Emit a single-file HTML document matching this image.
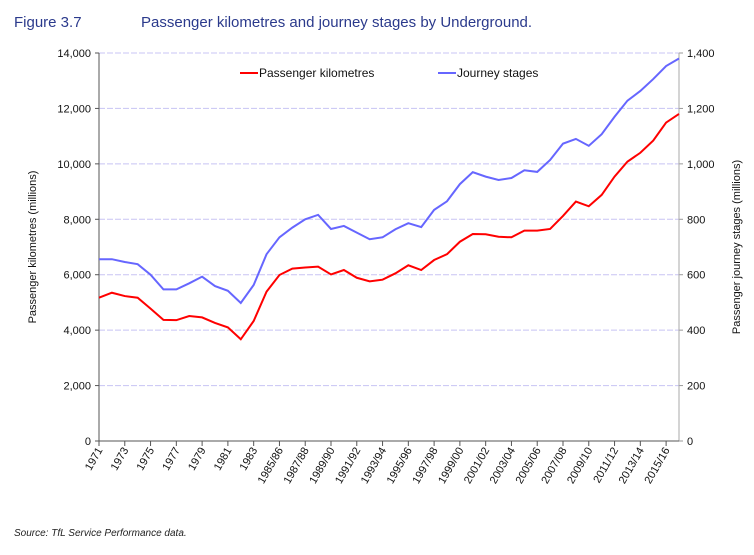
<!DOCTYPE html>
<html><head><meta charset="utf-8"><style>
body{margin:0;background:#fff;width:754px;height:550px;overflow:hidden;font-family:"Liberation Sans",sans-serif}
svg text{font-family:"Liberation Sans",sans-serif}
</style></head><body>
<svg id="chart" width="754" height="550">
<text x="14" y="27" font-size="15" fill="#2b3a8c">Figure 3.7</text>
<text x="141" y="27" font-size="15" fill="#2b3a8c">Passenger kilometres and journey stages by Underground.</text>
<g id="grid"></g><g id="axes"></g><g id="series"></g>
<g>
<line x1="240" y1="73" x2="258" y2="73" stroke="#ff0000" stroke-width="2"/>
<text x="259" y="77" font-size="12" fill="#111">Passenger kilometres</text>
<line x1="438" y1="73" x2="456" y2="73" stroke="#6666ff" stroke-width="2"/>
<text x="457" y="77" font-size="12" fill="#111">Journey stages</text>
</g>
<text transform="translate(36,247) rotate(-90)" text-anchor="middle" font-size="11" fill="#111">Passenger kilometres (millions)</text>
<text transform="translate(740,247) rotate(-90)" text-anchor="middle" font-size="11" fill="#111">Passenger journey stages (millions)</text>
<text x="14" y="536" font-size="10" font-style="italic" fill="#222">Source: TfL Service Performance data.</text>
</svg>
<script>
const categories=["1971","1972","1973","1974","1975","1976","1977","1978","1979","1980","1981","1982","1983","1984/85","1985/86","1986/87","1987/88","1988/89","1989/90","1990/91","1991/92","1992/93","1993/94","1994/95","1995/96","1996/97","1997/98","1998/99","1999/00","2000/01","2001/02","2002/03","2003/04","2004/05","2005/06","2006/07","2007/08","2008/09","2009/10","2010/11","2011/12","2012/13","2013/14","2014/15","2015/16","2016/17"];
const passengerKm=[5170,5350,5230,5170,4775,4370,4360,4510,4460,4260,4100,3670,4330,5390,5990,6220,6260,6290,6010,6170,5890,5760,5820,6050,6340,6170,6530,6740,7190,7470,7460,7370,7350,7590,7590,7650,8120,8640,8470,8880,9540,10080,10400,10840,11490,11800];
const journeyStages=[656,656,646,638,600,547,547,569,593,559,542,498,563,674,735,770,800,816,765,776,752,728,735,764,786,772,834,865,927,970,954,942,949,977,971,1014,1073,1090,1065,1107,1170,1228,1263,1306,1353,1380];
const leftTicks=[0,2000,4000,6000,8000,10000,12000,14000];
const rightTicks=[0,200,400,600,800,1000,1200,1400];
const xLabels=["1971","1973","1975","1977","1979","1981","1983","1985/86","1987/88","1989/90","1991/92","1993/94","1995/96","1997/98","1999/00","2001/02","2003/04","2005/06","2007/08","2009/10","2011/12","2013/14","2015/16"];
const NS="http://www.w3.org/2000/svg";
const X0=99,X1=679,Y0=441,Y1=53;
const x=i=>X0+i*(X1-X0)/(categories.length-1);
const yL=v=>Y0-v/14000*(Y0-Y1);
const yR=v=>Y0-v/1400*(Y0-Y1);
function mk(t,a,p){const e=document.createElementNS(NS,t);for(const k in a)e.setAttribute(k,a[k]);p.appendChild(e);return e;}
const grid=document.getElementById('grid'),axes=document.getElementById('axes'),ser=document.getElementById('series');
leftTicks.forEach(v=>{
 if(v>0){const g=mk('line',{x1:X0,x2:X1,y1:yL(v),y2:yL(v),stroke:'#c8c4f4','stroke-dasharray':'6,2'},grid);
 
 }
 mk('line',{x1:X0-4,x2:X0,y1:yL(v),y2:yL(v),stroke:'#555'},axes);
 const t=mk('text',{x:X0-8,y:yL(v)+4,'text-anchor':'end','font-size':11,fill:'#111'},axes);t.textContent=v.toLocaleString('en-US');
 
 
});
rightTicks.forEach(v=>{
 mk('line',{x1:X1,x2:X1+4,y1:yR(v),y2:yR(v),stroke:'#999'},axes);
 const t=mk('text',{x:X1+8,y:yR(v)+4,'font-size':11,fill:'#111'},axes);t.textContent=v.toLocaleString('en-US');
 
 
});
mk('line',{x1:X0,x2:X0,y1:Y1,y2:Y0,stroke:'#555'},axes);
mk('line',{x1:X1,x2:X1,y1:Y1,y2:Y0,stroke:'#aaa'},axes);
mk('line',{x1:X0,x2:X1,y1:Y0,y2:Y0,stroke:'#555'},axes);
xLabels.forEach((lab,k)=>{
 const xx=x(k*2);
 mk('line',{x1:xx,x2:xx,y1:Y0,y2:Y0+5,stroke:'#555'},axes);
 const t=mk('text',{transform:`translate(${xx+4},${Y0+9}) rotate(-60)`,'text-anchor':'end','font-size':11,fill:'#111'},axes);t.textContent=lab;
 
 
});
const p1=mk('polyline',{points:passengerKm.map((v,i)=>x(i)+','+yL(v)).join(' '),fill:'none',stroke:'#ff0000','stroke-width':2},ser);


const p2=mk('polyline',{points:journeyStages.map((v,i)=>x(i)+','+yR(v)).join(' '),fill:'none',stroke:'#6666ff','stroke-width':2},ser);


</script>
</body></html>
